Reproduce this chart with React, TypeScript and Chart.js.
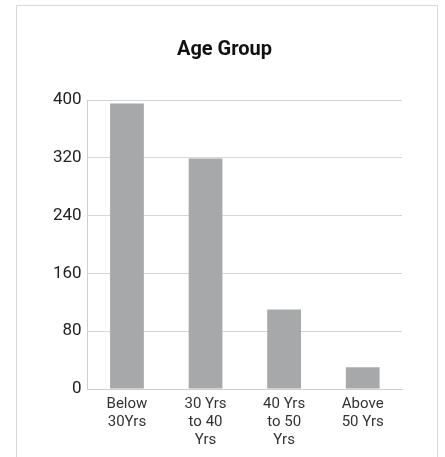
import React, { useEffect, useRef } from "react";
import { Chart, registerables } from "chart.js";

Chart.register(...registerables);

const categories: string[][] = [
  ["Below", "30Yrs"],
  ["30 Yrs", "to 40", "Yrs"],
  ["40 Yrs", "to 50", "Yrs"],
  ["Above", "50 Yrs"],
];
const values: number[] = [395, 319, 110, 30];
const yTicks: number[] = [0, 80, 160, 240, 320, 400];
const title = "Age Group";

export default function App() {
  const ref = useRef<HTMLCanvasElement | null>(null);
  useEffect(() => {
    if (!ref.current) return;
    const chart = new Chart(ref.current, {
      type: "bar",
      data: {
        labels: categories,
        datasets: [
          {
            data: values,
            backgroundColor: "#a7a8aa",
            categoryPercentage: 0.86,
            barPercentage: 0.5,
          },
        ],
      },
      options: {
        animation: false,
        responsive: false,
        maintainAspectRatio: false,
        layout: { padding: { left: 30, right: 35, top: 20, bottom: 3 } },
        plugins: {
          legend: { display: false },
          tooltip: { enabled: false },
          title: {
            display: true,
            text: title,
            color: "#111",
            font: { family: "Roboto", size: 20, weight: "bold" },
            padding: { top: 12, bottom: 38 },
          },
        },
        scales: {
          x: {
            grid: { display: false, drawTicks: false },
            border: { display: true, color: "#cfcfcf", width: 1 },
            ticks: {
              color: "#333",
              font: { family: "Roboto", size: 15, lineHeight: 1.2 },
              padding: 6,
              maxRotation: 0,
              autoSkip: false,
            },
          },
          y: {
            min: 0,
            max: 400,
            afterBuildTicks: (axis: any) => {
              axis.ticks = yTicks.map((v) => ({ value: v }));
            },
            grid: { color: "#d6d6d6", drawTicks: false, lineWidth: 1 },
            border: { display: true, color: "#cfcfcf", width: 1 },
            ticks: {
              color: "#222",
              font: { family: "Roboto", size: 17 },
              padding: 6,
            },
          },
        },
      },
    });
    return () => chart.destroy();
  }, []);
  return (
    <div
      style={{
        position: "absolute",
        left: 16,
        top: 5,
        width: 422,
        height: 470,
        border: "1px solid #d9d9d9",
        boxSizing: "border-box",
        background: "#fff",
      }}
    >
      <canvas ref={ref} width={420} height={452} style={{ display: "block" }} />
    </div>
  );
}
